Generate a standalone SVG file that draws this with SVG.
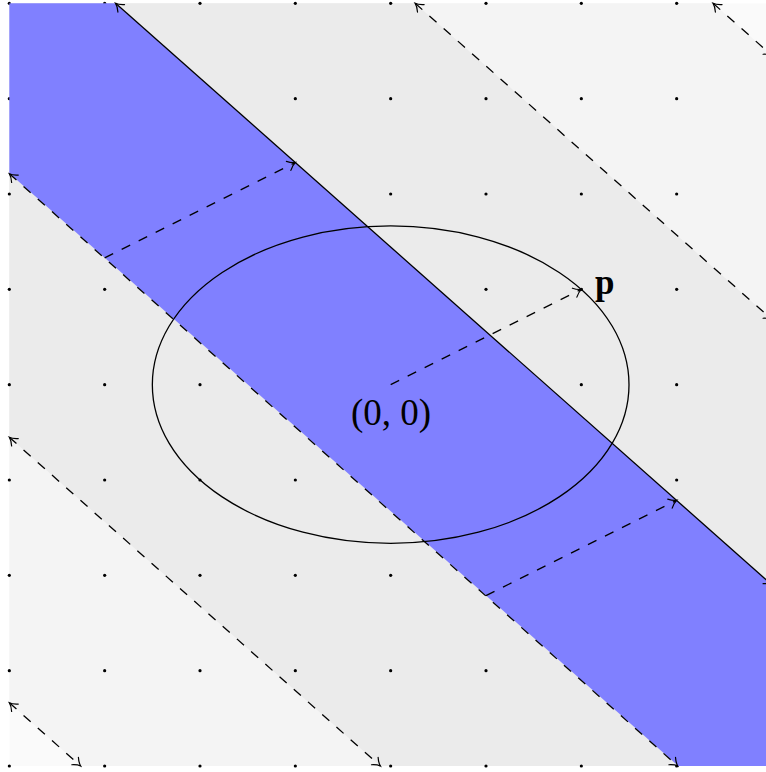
<svg xmlns="http://www.w3.org/2000/svg" width="766" height="772" viewBox="0 0 766 772">
  <style>
    .ln { fill: none; stroke: #000; stroke-width: 1.3; }
    .dash { stroke-dasharray: 9.5 9.5; }
    .dot { fill: #000; }
    .lbl { font-family: "Liberation Serif", "DejaVu Serif", serif; fill: #000; }
  </style>
  <defs>
    <clipPath id="box">
      <rect x="9.33" y="3.33" width="762.67" height="762.67"/>
    </clipPath>
    <marker id="tip" viewBox="-9 -6 11 12" refX="0" refY="0" markerWidth="11" markerHeight="12" markerUnits="userSpaceOnUse" orient="auto-start-reverse">
      <path d="M-7.5,-5 C-5,-2.5 -2,-0.6 0,0 C-2,0.6 -5,2.5 -7.5,5" fill="none" stroke="#000" stroke-width="1.2" stroke-dasharray="none" stroke-linecap="round"/>
    </marker>
  </defs>

  <g id="background" clip-path="url(#box)">
    <rect x="9.33" y="3.33" width="762.67" height="762.67" fill="#fafafa"/>
    <polygon points="-100,-717.1 1000,257.5 1000,1580.5 -100,605.9" fill="#f4f4f4"/>
    <polygon points="-100,-453.1 1000,521.5 1000,1315 -100,340.4" fill="#ebebeb"/>
  </g>

  <g id="grid">
    <g class="dot">
      <circle cx="9.33" cy="3.33" r="1.6"/><circle cx="104.67" cy="3.33" r="1.6"/><circle cx="200" cy="3.33" r="1.6"/><circle cx="295.33" cy="3.33" r="1.6"/><circle cx="390.67" cy="3.33" r="1.6"/><circle cx="486" cy="3.33" r="1.6"/><circle cx="581.33" cy="3.33" r="1.6"/><circle cx="676.67" cy="3.33" r="1.6"/>
      <circle cx="9.33" cy="98.67" r="1.6"/><circle cx="104.67" cy="98.67" r="1.6"/><circle cx="200" cy="98.67" r="1.6"/><circle cx="295.33" cy="98.67" r="1.6"/><circle cx="390.67" cy="98.67" r="1.6"/><circle cx="486" cy="98.67" r="1.6"/><circle cx="581.33" cy="98.67" r="1.6"/><circle cx="676.67" cy="98.67" r="1.6"/>
      <circle cx="9.33" cy="194" r="1.6"/><circle cx="104.67" cy="194" r="1.6"/><circle cx="200" cy="194" r="1.6"/><circle cx="295.33" cy="194" r="1.6"/><circle cx="390.67" cy="194" r="1.6"/><circle cx="486" cy="194" r="1.6"/><circle cx="581.33" cy="194" r="1.6"/><circle cx="676.67" cy="194" r="1.6"/>
      <circle cx="9.33" cy="289.33" r="1.6"/><circle cx="104.67" cy="289.33" r="1.6"/><circle cx="200" cy="289.33" r="1.6"/><circle cx="295.33" cy="289.33" r="1.6"/><circle cx="390.67" cy="289.33" r="1.6"/><circle cx="486" cy="289.33" r="1.6"/><circle cx="581.33" cy="289.33" r="1.6"/><circle cx="676.67" cy="289.33" r="1.6"/>
      <circle cx="9.33" cy="384.67" r="1.6"/><circle cx="104.67" cy="384.67" r="1.6"/><circle cx="200" cy="384.67" r="1.6"/><circle cx="295.33" cy="384.67" r="1.6"/><circle cx="390.67" cy="384.67" r="1.6"/><circle cx="486" cy="384.67" r="1.6"/><circle cx="581.33" cy="384.67" r="1.6"/><circle cx="676.67" cy="384.67" r="1.6"/>
      <circle cx="9.33" cy="480" r="1.6"/><circle cx="104.67" cy="480" r="1.6"/><circle cx="200" cy="480" r="1.6"/><circle cx="295.33" cy="480" r="1.6"/><circle cx="390.67" cy="480" r="1.6"/><circle cx="486" cy="480" r="1.6"/><circle cx="581.33" cy="480" r="1.6"/><circle cx="676.67" cy="480" r="1.6"/>
      <circle cx="9.33" cy="575.33" r="1.6"/><circle cx="104.67" cy="575.33" r="1.6"/><circle cx="200" cy="575.33" r="1.6"/><circle cx="295.33" cy="575.33" r="1.6"/><circle cx="390.67" cy="575.33" r="1.6"/><circle cx="486" cy="575.33" r="1.6"/><circle cx="581.33" cy="575.33" r="1.6"/><circle cx="676.67" cy="575.33" r="1.6"/>
      <circle cx="9.33" cy="670.67" r="1.6"/><circle cx="104.67" cy="670.67" r="1.6"/><circle cx="200" cy="670.67" r="1.6"/><circle cx="295.33" cy="670.67" r="1.6"/><circle cx="390.67" cy="670.67" r="1.6"/><circle cx="486" cy="670.67" r="1.6"/><circle cx="581.33" cy="670.67" r="1.6"/><circle cx="676.67" cy="670.67" r="1.6"/>
      <circle cx="9.33" cy="766" r="1.6"/><circle cx="104.67" cy="766" r="1.6"/><circle cx="200" cy="766" r="1.6"/><circle cx="295.33" cy="766" r="1.6"/><circle cx="390.67" cy="766" r="1.6"/><circle cx="486" cy="766" r="1.6"/><circle cx="581.33" cy="766" r="1.6"/><circle cx="676.67" cy="766" r="1.6"/>
    </g>
  </g>

  <g id="strip" clip-path="url(#box)">
    <polygon points="-100,-187.72 1000,786.88 1000,1051 -100,76.4" fill="#8080ff"/>
  </g>

  <g id="connectors">
    <line class="ln dash" x1="713.1" y1="3.33" x2="772" y2="55.5" marker-start="url(#tip)" marker-end="url(#tip)"/>
    <line class="ln dash" x1="415.2" y1="3.33" x2="772" y2="319.5" marker-start="url(#tip)" marker-end="url(#tip)"/>
    <line class="ln" x1="115.6" y1="3.33" x2="772" y2="584.9" marker-start="url(#tip)" marker-end="url(#tip)"/>
    <line class="ln dash" x1="9.33" y1="173.8" x2="677.8" y2="766" marker-start="url(#tip)" marker-end="url(#tip)"/>
    <line class="ln dash" x1="9.33" y1="437.3" x2="380.4" y2="766" marker-start="url(#tip)" marker-end="url(#tip)"/>
    <line class="ln dash" x1="9.33" y1="702.8" x2="80.7" y2="766" marker-start="url(#tip)" marker-end="url(#tip)"/>
    <line class="ln dash" x1="104.67" y1="257.8" x2="295.33" y2="162.5" marker-end="url(#tip)"/>
    <line class="ln dash" x1="486" y1="595.6" x2="676.67" y2="500.3" marker-end="url(#tip)"/>
    <line class="ln dash" x1="390.67" y1="384.67" x2="581.33" y2="289.33" marker-end="url(#tip)"/>
  </g>

  <g id="ellipse">
    <ellipse class="ln" cx="390.67" cy="384.67" rx="238.33" ry="158.7"/>
  </g>

  <g id="origin-label">
    <text class="lbl" x="391" y="425" font-size="37" text-anchor="middle">(0, 0)</text>
  </g>
  <g id="p-label">
    <text class="lbl" x="595" y="293.5" font-size="35" font-weight="bold">p</text>
  </g>
</svg>
